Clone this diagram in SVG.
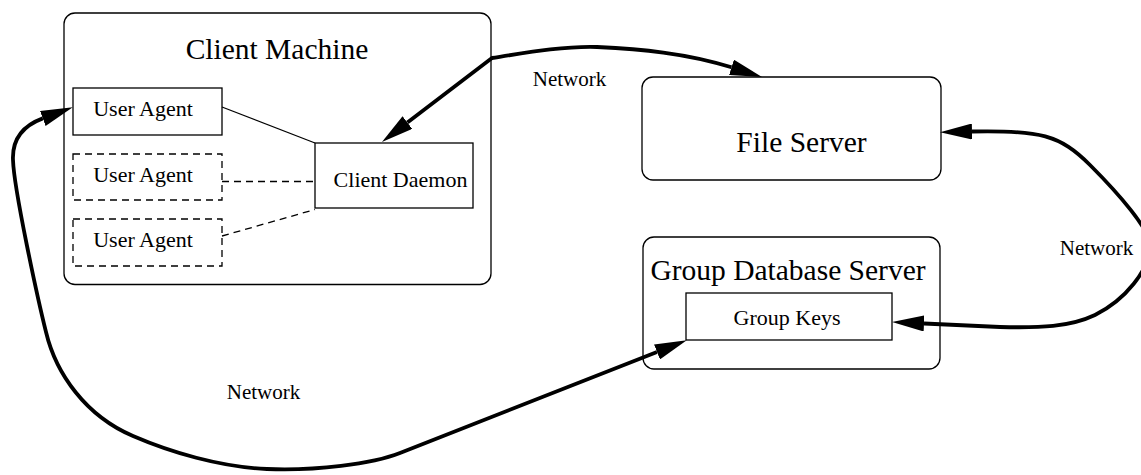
<svg xmlns="http://www.w3.org/2000/svg" width="1141" height="475" viewBox="0 0 1141 475">
<style>
.box{fill:none;stroke:#000;stroke-width:1.3}
.dash{fill:none;stroke:#000;stroke-width:1.3;stroke-dasharray:7 5}
.title{font-family:"Liberation Serif",serif;font-size:29.5px;fill:#000;text-anchor:middle}
.lbl{font-family:"Liberation Serif",serif;font-size:22px;fill:#000;text-anchor:middle}
.net{font-family:"Liberation Serif",serif;font-size:21px;fill:#000;text-anchor:middle}
.thin{fill:none;stroke:#000;stroke-width:1.3}
.thindash{fill:none;stroke:#000;stroke-width:1.3;stroke-dasharray:7 5}
.thick{fill:none;stroke:#000;stroke-width:3.8;stroke-linejoin:round;marker-start:url(#ah);marker-end:url(#ah)}
</style>
<defs>
<marker id="ah" viewBox="0 0 32 16" refX="0" refY="8" markerWidth="32" markerHeight="16" markerUnits="userSpaceOnUse" orient="auto-start-reverse">
<path d="M0,0 L32,8 L0,16 z" fill="#000"/>
</marker>
</defs>
<rect width="1141" height="475" fill="#fff"/>
<g id="client-machine">
<rect class="box" x="64" y="13" width="427" height="271.5" rx="11"/>
<text class="title" x="277" y="59">Client Machine</text>
</g>
<g id="user-agent-1">
<rect class="box" x="73" y="88" width="149" height="47"/>
<text class="lbl" x="143" y="116">User Agent</text>
</g>
<g id="user-agent-2">
<rect class="dash" x="73" y="154" width="149" height="46"/>
<text class="lbl" x="143" y="182">User Agent</text>
</g>
<g id="user-agent-3">
<rect class="dash" x="73" y="219" width="149" height="47"/>
<text class="lbl" x="143" y="247">User Agent</text>
</g>
<g id="client-daemon">
<rect class="box" x="315" y="143" width="158" height="65"/>
<text class="lbl" x="400.5" y="187">Client Daemon</text>
</g>
<g id="file-server">
<rect class="box" x="642" y="77" width="299" height="103" rx="11"/>
<text class="title" x="801.5" y="152">File Server</text>
</g>
<g id="group-db-server">
<rect class="box" x="643" y="237" width="297" height="132" rx="11"/>
<text class="title" x="788" y="280">Group Database Server</text>
</g>
<g id="group-keys">
<rect class="box" x="686" y="293" width="206" height="47"/>
<text class="lbl" x="787" y="325">Group Keys</text>
</g>
<g id="connectors">
<path class="thin" d="M222,107 L315,143"/>
<path class="thindash" d="M222,181.5 L315,181.5"/>
<path class="thindash" d="M222,236 L315,209.5"/>
<path class="thick" d="M407.4,122.5 L492,58 C530,52 565,46 597,47 C640,49 686,53 731.5,67.3"/>
<path class="thick" d="M972,131.5 C1040,130 1060,135 1090,165 C1120,195 1150,230 1150,245 C1150,270 1125,300 1095,315 C1070,327 1040,328 1000,327 L924,323.5"/>
<path class="thick" d="M42.8,118.4 C25,125 12,138 13,160 C14,190 38,300 46,332 C56,374 86,416 133,436 C170,452 220,467 267,469 C315,471 372,464 400,453 L657,352"/>
<text class="net" x="569.5" y="86">Network</text>
<text class="net" x="1096.5" y="255">Network</text>
<text class="net" x="263.5" y="399">Network</text>
</g>
</svg>
